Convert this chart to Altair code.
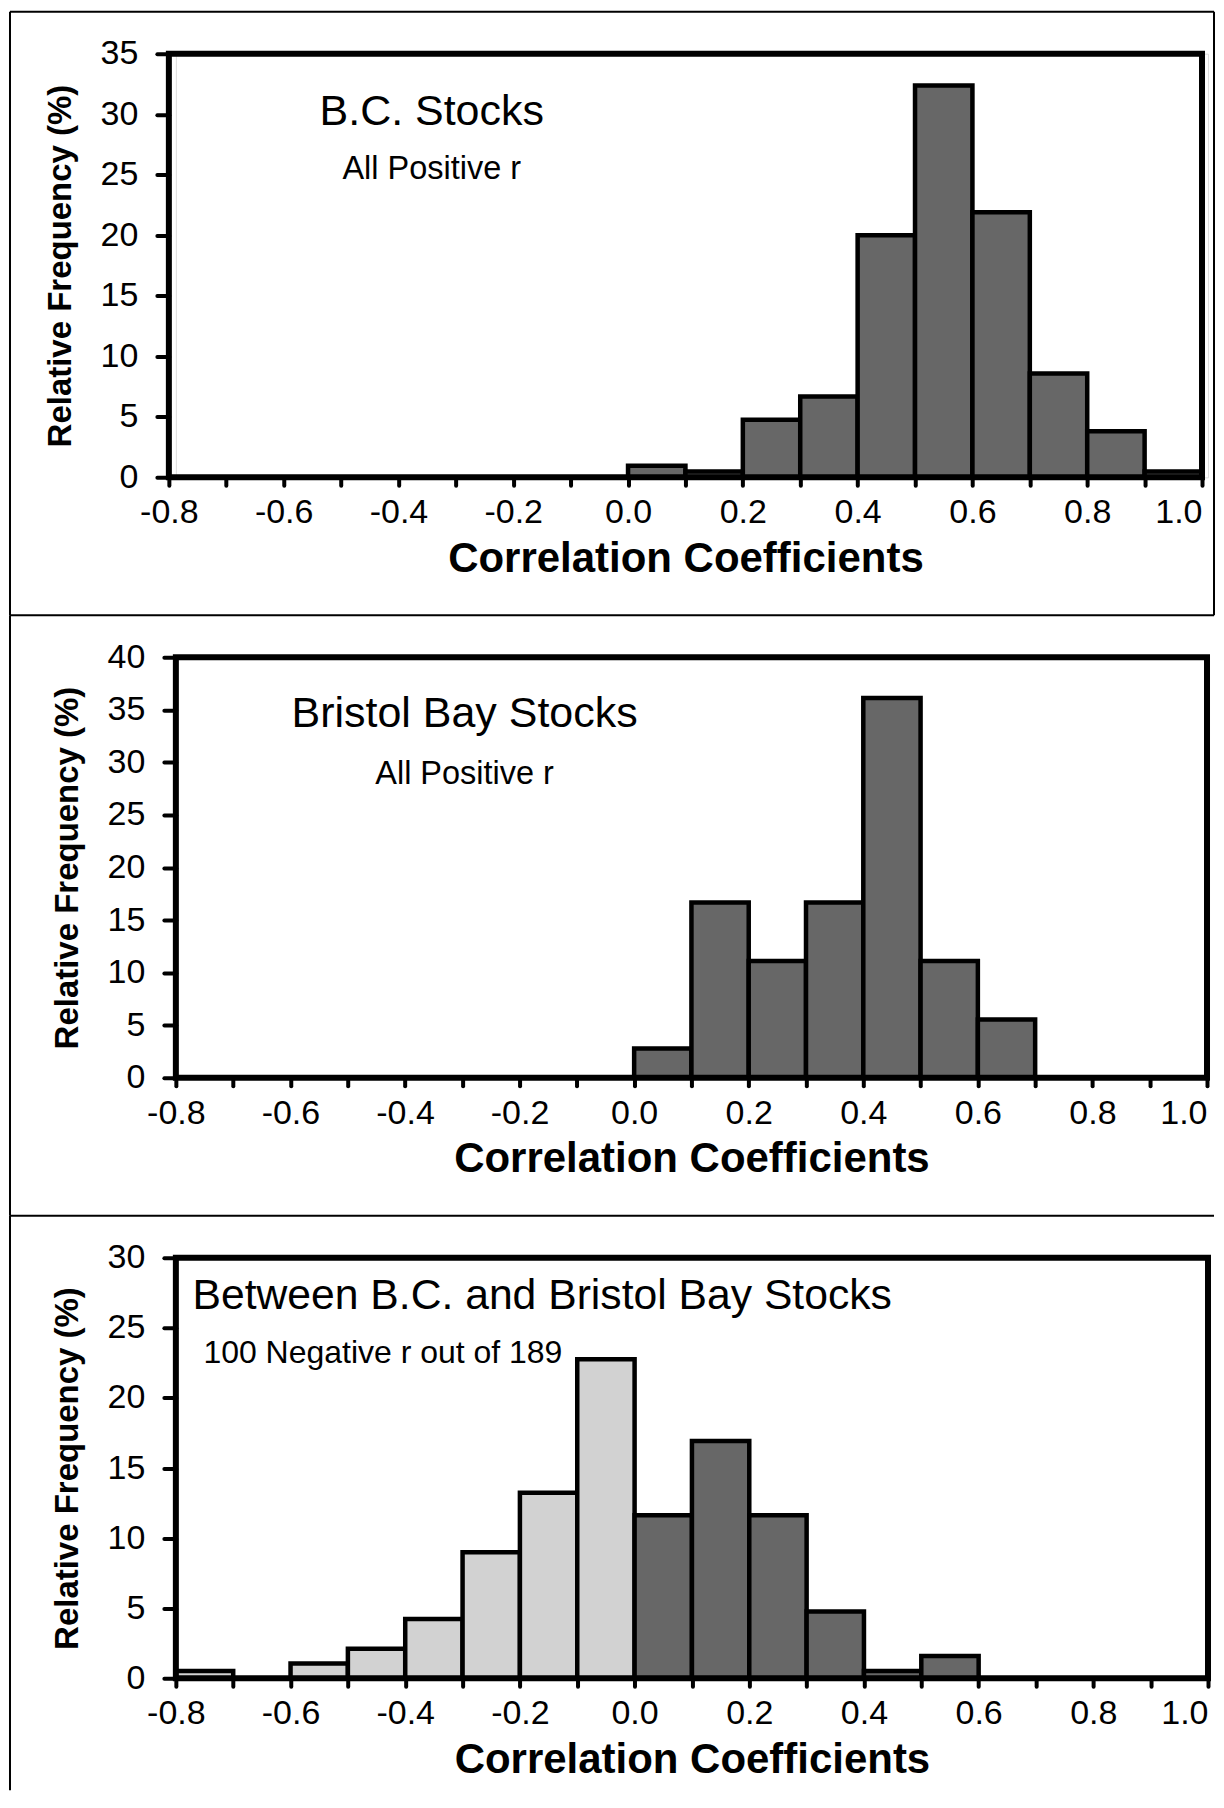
import altair as alt
import pandas as pd

FONT = "Liberation Sans"

bin_width = 0.1
x_domain = [-0.8, 1.0]
x_tick_values = [-0.8, -0.7, -0.6, -0.5, -0.4, -0.3, -0.2, -0.1, 0.0, 0.1,
                 0.2, 0.3, 0.4, 0.5, 0.6, 0.7, 0.8, 0.9, 1.0]
x_title = "Correlation Coefficients"
y_title = "Relative Frequency (%)"

# Panel 1: B.C. stocks
bc_bins = [0.0, 0.1, 0.2, 0.3, 0.4, 0.5, 0.6, 0.7, 0.8, 0.9]
bc_freq = [0.95, 0.48, 4.76, 6.67, 20.0, 32.38, 21.90, 8.57, 3.81, 0.48]
bc_yticks = [0, 5, 10, 15, 20, 25, 30, 35]
bc_text = ["B.C. Stocks", "All Positive r"]
bc_text_x = [-0.342, -0.342]
bc_text_y = [30.2, 25.5]
bc_text_size = [43, 32.5]

# Panel 2: Bristol Bay stocks
bb_bins = [0.0, 0.1, 0.2, 0.3, 0.4, 0.5, 0.6]
bb_freq = [2.78, 16.67, 11.11, 16.67, 36.11, 11.11, 5.56]
bb_yticks = [0, 5, 10, 15, 20, 25, 30, 35, 40]
bb_text = ["Bristol Bay Stocks", "All Positive r"]
bb_text_x = [-0.296, -0.296]
bb_text_y = [34.6, 28.9]
bb_text_size = [43, 32.5]

# Panel 3: between B.C. and Bristol Bay stocks
bt_bins = [-0.8, -0.7, -0.6, -0.5, -0.4, -0.3, -0.2, -0.1, 0.0, 0.1, 0.2, 0.3, 0.4, 0.5]
bt_freq = [0.53, 0.0, 1.06, 2.12, 4.23, 8.99, 13.23, 22.75, 11.64, 16.93, 11.64, 4.76, 0.53, 1.59]
bt_yticks = [0, 5, 10, 15, 20, 25, 30]
bt_text = ["Between B.C. and Bristol Bay Stocks", "100 Negative r out of 189"]
bt_text_x = [-0.771, -0.752]
bt_text_y = [27.3, 23.2]
bt_text_size = [42.7, 32]

LABEL_EXPR = ("abs(round(datum.value*10)) % 2 == 0 ? "
              "(datum.value < -0.001 ? '-' : '') + format(abs(datum.value), '.1f') : ''")

PANEL_W = 1033
SPACING = 180
RIGHT_EDGE = 1039


def panel(bins, freq, pos_color, neg_color, yticks, height, xrange, yoffset,
          texts, tx, ty, tsize, talign, right_line, last):
    df = pd.DataFrame({
        "start": bins,
        "end": [round(b + bin_width, 2) for b in bins],
        "freq": freq,
        "sign": ["neg" if b < 0 else "pos" for b in bins],
    })
    xs = alt.Scale(domain=x_domain, range=xrange, nice=False, zero=False)
    ys = alt.Scale(domain=[yticks[0], yticks[-1]], nice=False, zero=True)
    xaxis = alt.Axis(values=x_tick_values, labelExpr=LABEL_EXPR, title=x_title,
                     domain=False, grid=False, tickSize=8, tickWidth=4,
                     tickColor="black", tickCap="round", labelFont=FONT,
                     labelFontSize=34, labelColor="black", labelPadding=10.5,
                     labelAlign={"condition": {"test": "datum.value > 0.95", "value": "right"},
                                 "value": "center"},
                     labelFlush=False, labelOverlap=False, titleFont=FONT,
                     titleFontSize=42, titleFontWeight="bold", titleColor="black",
                     titlePadding=8.5)
    yaxis = alt.Axis(values=yticks, title=y_title, domain=False, grid=False,
                     tickSize=12, tickWidth=4, tickColor="black", tickCap="round",
                     labelFont=FONT, labelFontSize=34, labelColor="black",
                     labelPadding=19, labelFlush=False, labelOverlap=False,
                     titleFont=FONT, titleFontSize=33, titleFontWeight="bold",
                     titleColor="black", titlePadding=23, offset=yoffset)

    bars = alt.Chart(df).mark_rect(stroke="black", strokeWidth=4.5).encode(
        x=alt.X("start:Q", scale=xs, axis=xaxis),
        x2="end:Q",
        y=alt.Y("freq:Q", scale=ys, axis=yaxis),
        y2=alt.datum(0),
        fill=alt.Fill("sign:N", scale=alt.Scale(domain=["neg", "pos"],
                                                range=[neg_color, pos_color]),
                      legend=None),
    )

    tdf = pd.DataFrame({"label": texts, "start": tx, "freq": ty, "fs": tsize})
    txt = alt.Chart(tdf).mark_text(font=FONT, color="black", baseline="middle",
                                   align=talign).encode(
        x=alt.X("start:Q", scale=xs, axis=xaxis),
        y=alt.Y("freq:Q", scale=ys, axis=yaxis),
        text="label:N",
        size=alt.Size("fs:Q", scale=None, legend=None),
    )

    one = pd.DataFrame({"k": [0]})
    frame = alt.Chart(one).mark_rect(fillOpacity=0, stroke="black", strokeWidth=6).encode(
        x=alt.value(xrange[0]), x2=alt.value(xrange[1]),
        y=alt.value(0), y2=alt.value(height),
    )
    bottom_y = 533 if last else height + SPACING - 42
    top_line = alt.Chart(one).mark_rule(color="black", strokeWidth=2).encode(
        x=alt.value(-166), x2=alt.value(RIGHT_EDGE), y=alt.value(-42), y2=alt.value(-42))
    left_line = alt.Chart(one).mark_rule(color="black", strokeWidth=2).encode(
        x=alt.value(-166), x2=alt.value(-166), y=alt.value(-42), y2=alt.value(bottom_y))
    layers = [bars, txt, frame, top_line, left_line]
    if right_line:
        layers.append(alt.Chart(one).mark_rule(color="black", strokeWidth=2).encode(
            x=alt.value(RIGHT_EDGE), x2=alt.value(RIGHT_EDGE), y=alt.value(-42),
            y2=alt.value(height + SPACING - 42)))
    return alt.layer(*layers).properties(width=PANEL_W, height=height)


p1 = panel(bc_bins, bc_freq, "#676767", "#d2d2d2", bc_yticks, 424, [-7, 1027], 7,
           bc_text, bc_text_x, bc_text_y, bc_text_size, "center", True, False)
p2 = panel(bb_bins, bb_freq, "#6b6b6b", "#d2d2d2", bb_yticks, 421, [0, 1032], 0,
           bb_text, bb_text_x, bb_text_y, bb_text_size, "center", False, False)
p3 = panel(bt_bins, bt_freq, "#575757", "#d2d2d2", bt_yticks, 421, [0, 1033], 0,
           bt_text, bt_text_x, bt_text_y, bt_text_size, "left", False, True)

chart = alt.vconcat(p1, p2, p3, spacing=SPACING, bounds="flush").properties(
    padding={"left": 0, "top": 1, "right": 0, "bottom": 0}
).configure_view(stroke="transparent").configure(background="white")

chart.save("out.html", embed_options={"renderer": "svg", "actions": False})
